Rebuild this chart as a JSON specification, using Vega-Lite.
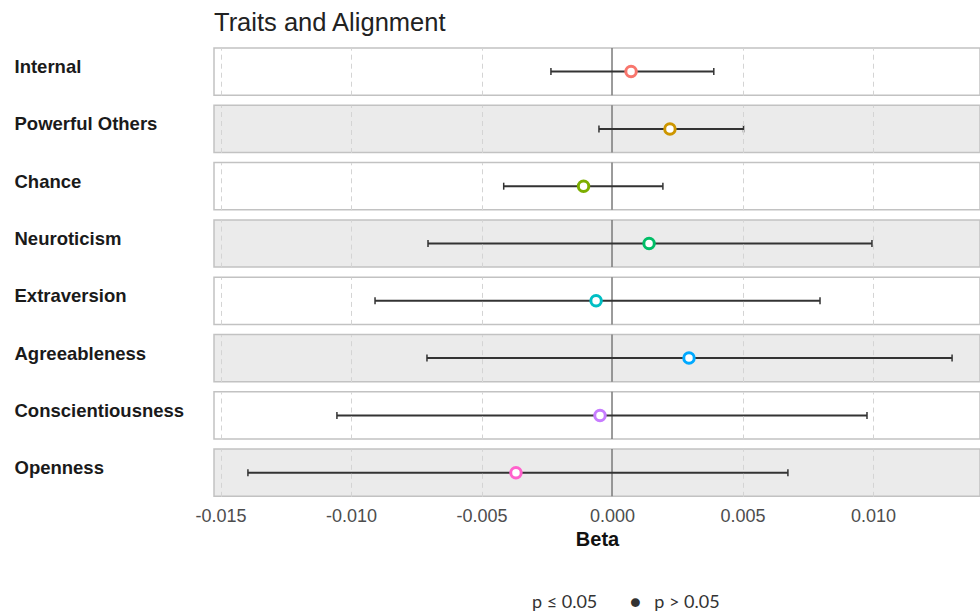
{
  "$schema": "https://vega.github.io/schema/vega-lite/v6.json",
  "autosize": {"type": "pad"},
  "padding": {"left": 14, "top": 10, "right": 0, "bottom": 0},
  "background": "white",
  "title": {"text": "Traits and Alignment", "anchor": "start", "frame": "group", "font": "Liberation Sans", "fontSize": 25.5, "fontWeight": "normal", "color": "#222222", "offset": 11},
  "config": {"view": {"stroke": null}},
  "data": {"values": [
    {"order": 1, "trait": "Internal", "beta": 0.00073, "low": -0.00234, "high": 0.00390, "sig": "p > 0.05"},
    {"order": 2, "trait": "Powerful Others", "beta": 0.00222, "low": -0.00050, "high": 0.00504, "sig": "p > 0.05"},
    {"order": 3, "trait": "Chance", "beta": -0.00109, "low": -0.00415, "high": 0.00195, "sig": "p > 0.05"},
    {"order": 4, "trait": "Neuroticism", "beta": 0.00142, "low": -0.00705, "high": 0.00996, "sig": "p > 0.05"},
    {"order": 5, "trait": "Extraversion", "beta": -0.00061, "low": -0.00908, "high": 0.00797, "sig": "p > 0.05"},
    {"order": 6, "trait": "Agreeableness", "beta": 0.00295, "low": -0.00709, "high": 0.01303, "sig": "p > 0.05"},
    {"order": 7, "trait": "Conscientiousness", "beta": -0.00046, "low": -0.01054, "high": 0.00977, "sig": "p > 0.05"},
    {"order": 8, "trait": "Openness", "beta": -0.00368, "low": -0.01395, "high": 0.00674, "sig": "p > 0.05"}
  ]},
  "facet": {"row": {"field": "trait", "type": "nominal", "sort": {"field": "order"}, "header": null}},
  "spacing": 8.3,
  "resolve": {"scale": {"y": "independent"}},
  "spec": {
    "width": 766,
    "height": 47.2,
    "layer": [
      {
        "mark": {"type": "rect", "stroke": "#c2c2c2", "strokeWidth": 1.5},
        "encoding": {
          "y": {"field": "trait", "type": "nominal", "scale": {"paddingInner": 0, "paddingOuter": 0},
                "axis": {"title": null, "domain": false, "ticks": false, "grid": false, "labelAlign": "left", "labelPadding": 200, "labelOffset": -4.5, "labelFont": "Liberation Sans", "labelFontSize": 18.5, "labelFontWeight": "bold", "labelColor": "#1a1a1a", "labelLimit": 300}},
          "fill": {"field": "order", "type": "ordinal", "scale": {"domain": [1, 2, 3, 4, 5, 6, 7, 8], "range": ["#ffffff", "#ebebeb", "#ffffff", "#ebebeb", "#ffffff", "#ebebeb", "#ffffff", "#ebebeb"]}, "legend": null}
        }
      },
      {
        "mark": {"type": "rule", "color": "#7a7a7a", "strokeWidth": 1.5},
        "encoding": {
          "x": {"datum": 0, "type": "quantitative",
                "scale": {"domain": [-0.01525, 0.01410], "nice": false, "zero": false},
                "axis": {"values": [-0.015, -0.01, -0.005, 0, 0.005, 0.01], "labelExpr": "replace(format(datum.value, '.3f'), '\u2212', '-')", "title": "Beta", "titleFont": "Liberation Sans", "titleFontSize": 20, "titleFontWeight": "bold", "titleColor": "#111111", "titlePadding": 4, "labelFont": "Liberation Sans", "labelFontSize": 18, "labelColor": "#4d4d4d", "labelPadding": 9, "ticks": false, "domain": false, "grid": true, "gridColor": "#d4d4d4", "gridDash": [5, 4], "gridWidth": 1, "gridOpacity": {"condition": {"test": "datum.value === 0", "value": 0}, "value": 1}, "zindex": 1}}
        }
      },
      {
        "mark": {"type": "rule", "color": "#333333", "strokeWidth": 2},
        "encoding": {
          "x": {"field": "low", "type": "quantitative"},
          "x2": {"field": "high"},
          "y": {"field": "trait", "type": "nominal"}
        }
      },
      {
        "mark": {"type": "tick", "orient": "vertical", "color": "#333333", "size": 7, "thickness": 1.5, "opacity": 1},
        "encoding": {
          "x": {"field": "low", "type": "quantitative"},
          "y": {"field": "trait", "type": "nominal"}
        }
      },
      {
        "mark": {"type": "tick", "orient": "vertical", "color": "#333333", "size": 7, "thickness": 1.5, "opacity": 1},
        "encoding": {
          "x": {"field": "high", "type": "quantitative"},
          "y": {"field": "trait", "type": "nominal"}
        }
      },
      {
        "mark": {"type": "point", "filled": false, "fill": "white", "strokeWidth": 3, "size": 110, "opacity": 1},
        "encoding": {
          "x": {"field": "beta", "type": "quantitative"},
          "y": {"field": "trait", "type": "nominal"},
          "color": {"field": "trait", "type": "nominal",
                    "scale": {"domain": ["Internal", "Powerful Others", "Chance", "Neuroticism", "Extraversion", "Agreeableness", "Conscientiousness", "Openness"],
                              "range": ["#F8766D", "#CD9600", "#7CAE00", "#00BE67", "#00BFC4", "#00A9FF", "#C77CFF", "#FF61CC"]},
                    "legend": null},
          "shape": {"field": "sig", "type": "nominal",
                    "scale": {"domain": ["p \u2264 0.05", "p > 0.05"], "range": ["circle", "circle"]},
                    "legend": {"title": null, "orient": "none", "legendX": 286, "legendY": 546, "direction": "horizontal", "labelFont": "Lato", "labelFontSize": 18, "labelColor": "#333333", "labelLimit": 300, "symbolType": "circle", "symbolSize": 100, "symbolStrokeWidth": 4, "symbolFillColor": "white", "symbolStrokeColor": "black", "columnPadding": -13, "labelOffset": 14,
                               "labelExpr": "datum.label === 'p > 0.05' ? '\u25CF\u2003p > 0.05' : datum.label"}}
        }
      }
    ]
  }
}
